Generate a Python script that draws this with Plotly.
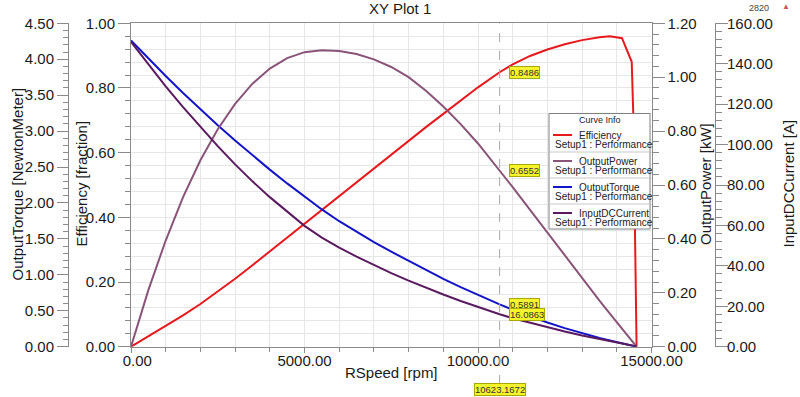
import plotly.graph_objects as go

W, H = 800, 397


def px(x):
    return x / W


def py(y):
    return 1 - y / H


# ---------------- data ----------------
speed = [0, 500, 1000, 1500, 2000, 2500, 3000, 3500, 4000, 4500, 5000, 5500,
         6000, 6500, 7000, 7500, 8000, 8500, 9000, 9500, 10000, 10623.1672,
         11000, 11500, 12000, 12500, 13000, 13500, 13800, 14150, 14430,
         14480, 14530, 14570]

efficiency = [0.0, 0.0315, 0.064, 0.097, 0.132, 0.170, 0.210, 0.252, 0.295,
              0.338, 0.381, 0.424, 0.467, 0.510, 0.553, 0.595, 0.637, 0.679,
              0.720, 0.762, 0.802, 0.8486, 0.873, 0.899, 0.919, 0.935, 0.948,
              0.957, 0.960, 0.954, 0.881, 0.70, 0.35, 0.0]

output_power = [0.0, 0.210, 0.394, 0.555, 0.692, 0.807, 0.901, 0.976, 1.032,
                1.071, 1.093, 1.100, 1.097, 1.086, 1.066, 1.038, 1.000,
                0.950, 0.891, 0.826, 0.754, 0.6552, 0.592, 0.508, 0.423,
                0.338, 0.253, 0.171, 0.123, 0.067, 0.023, 0.015, 0.006, 0.0]

output_torque = [4.26, 4.010, 3.767, 3.531, 3.303, 3.082, 2.869, 2.663, 2.464,
                 2.272, 2.087, 1.910, 1.746, 1.596, 1.454, 1.322, 1.194,
                 1.067, 0.945, 0.830, 0.720, 0.5891, 0.514, 0.422, 0.337,
                 0.258, 0.186, 0.121, 0.085, 0.045, 0.015, 0.010, 0.004, 0.0]

input_dc_current = [150.8, 139.6, 128.8, 118.5, 108.6, 99.2, 90.2, 81.8, 74.0,
                    66.7, 59.8, 54.0, 49.0, 44.6, 40.4, 36.4, 32.7, 29.1,
                    25.8, 22.6, 19.6, 16.0863, 14.1, 11.8, 9.6, 7.5, 5.56,
                    3.72, 2.67, 1.46, 0.54, 0.45, 0.36, 0.3]

series_names = ["Efficiency", "OutputPower", "OutputTorque", "InputDCCurrent"]
series_colors = ["#e8191c", "#8a5478", "#1414c8", "#5a1a60"]
series_axes = ["y", "y3", "y2", "y4"]
setup_label = "Setup1 : Performance"

cursor_speed = 10623.1672
cursor_values = [0.8486, 0.6552, 0.5891, 16.0863]
cursor_axes = ["y", "y3", "y2", "y4"]

x_tickvals = [0, 5000, 10000, 15000]
x_ticktext = ["\u00a0\u00a0\u00a00.00", "5000.00", "10000.00", "15000.00"]

axis_titles = ["OutputTorque [NewtonMeter]", "Efficiency [fraction]",
               "OutputPower [kW]", "InputDCCurrent [A]"]

# ---------------- figure ----------------
AX = "#8a8a8a"
GRID = "#e6e6e6"
FONT = "Liberation Sans, Arial, sans-serif"

fig = go.Figure()
ys = [efficiency, output_power, output_torque, input_dc_current]
for name, color, ax, yv in zip(series_names, series_colors, series_axes, ys):
    fig.add_trace(go.Scatter(x=speed, y=yv, mode="lines", name=name,
                             yaxis=ax, line=dict(color=color, width=2),
                             showlegend=False))

common_y = dict(ticks="outside", tickcolor=AX, showline=True, linecolor=AX,
                zeroline=False, tickformat=".2f", tickfont=dict(size=15),
                automargin=False)

fig.update_layout(
    width=W, height=H,
    margin=dict(l=0, r=0, t=0, b=0, pad=0, autoexpand=False),
    paper_bgcolor="white", plot_bgcolor="white",
    font=dict(family=FONT, size=15, color="#1a1a1a"),
    showlegend=False,
    xaxis=dict(domain=[px(131), px(651.5)], range=[0, 15000],
               tickmode="array", tickvals=x_tickvals, ticktext=x_ticktext,
               ticks="outside", ticklen=5, tickcolor=AX,
               showline=True, linecolor=AX, mirror=True, zeroline=False,
               showgrid=True, gridcolor=GRID, automargin=False,
               ticklabelstandoff=-5,
               minor=dict(tickmode="linear", tick0=0, dtick=1000,
                          ticks="outside", ticklen=4, tickcolor=AX,
                          showgrid=True, gridcolor=GRID),
               tickfont=dict(size=15)),
    yaxis=dict(domain=[py(346.7), py(23.3)], range=[0, 1], dtick=0.2,
               ticklen=12, showgrid=True, gridcolor=GRID,
               minor=dict(dtick=0.04, ticks="outside", ticklen=5,
                          tickcolor=AX, showgrid=True, gridcolor=GRID),
               **common_y),
    yaxis2=dict(overlaying="y", anchor="free", position=px(68), side="left",
                range=[0, 4.5], dtick=0.5, ticklen=11, showgrid=False,
                minor=dict(dtick=0.1, ticks="outside", ticklen=5,
                           tickcolor=AX),
                **common_y),
    yaxis3=dict(overlaying="y", anchor="x", side="right",
                range=[0, 1.2], dtick=0.2, ticklen=12, showgrid=False,
                minor=dict(dtick=0.04, ticks="outside", ticklen=6,
                           tickcolor=AX),
                **common_y),
    yaxis4=dict(overlaying="y", anchor="free", position=px(715), side="right",
                range=[0, 160], dtick=20, ticklen=12, showgrid=False,
                ticklabelstandoff=-4,
                minor=dict(dtick=4, ticks="outside", ticklen=6,
                           tickcolor=AX),
                **common_y),
)

ann = []


def text_ann(text, x, y, size, color="#1a1a1a", xanchor="center", angle=0):
    return dict(text=text, x=px(x), y=py(y), xref="paper", yref="paper",
                xanchor=xanchor, yanchor="middle", showarrow=False,
                textangle=angle, font=dict(size=size, color=color))


# title and axis titles
ann.append(text_ann("XY Plot 1", 400, 8.5, 15))
ann.append(text_ann("RSpeed [rpm]", 391, 372, 15))
for t, xp in zip(axis_titles, [16.5, 80.5, 705, 787.5]):
    ann.append(text_ann(t, xp, 184, 15, angle=-90))
ann.append(text_ann("2820", 759, 8, 9, color="#444444"))
ann.append(text_ann("\u25b2", 785.5, 6, 8, color="#c85a5a"))

# cursor readouts
YEL = "#f6f52c"
YB = "#a8a800"
for val, ax in zip(cursor_values, cursor_axes):
    ann.append(dict(text=f"{val:.4f}", x=cursor_speed, y=val, xref="x",
                    yref=ax, xanchor="left", yanchor="middle", xshift=9,
                    showarrow=False, bgcolor=YEL, bordercolor=YB,
                    borderwidth=1, borderpad=0,
                    font=dict(size=9.5, color="#333333")))
ann.append(dict(text=f"{cursor_speed:.4f}", x=cursor_speed, y=py(389),
                xref="x", yref="paper", xanchor="center", yanchor="middle",
                showarrow=False, bgcolor=YEL, bordercolor=YB, borderwidth=1,
                borderpad=0, font=dict(size=9.5, color="#333333")))

# legend box ("Curve Info")
shapes = [dict(type="line", xref="x", x0=cursor_speed, x1=cursor_speed,
               yref="paper", y0=py(384), y1=py(23.3),
               line=dict(color="#a8a8a8", width=1, dash="dash"))]
shapes.append(dict(type="rect", xref="paper", yref="paper",
                   x0=px(549), x1=px(650), y0=py(229), y1=py(113.5),
                   line=dict(color="#808080", width=1), fillcolor="white",
                   layer="above"))
ann.append(text_ann("Curve Info", 599.5, 120, 9, color="#222222"))
for i, (name, color) in enumerate(zip(series_names, series_colors)):
    top = 126 + 26 * i
    if i > 0:
        shapes.append(dict(type="line", xref="paper", yref="paper",
                           x0=px(549), x1=px(650), y0=py(top), y1=py(top),
                           line=dict(color="#c8c8c8", width=1)))
    shapes.append(dict(type="line", xref="paper", yref="paper",
                       x0=px(553), x1=px(572), y0=py(top + 9),
                       y1=py(top + 9), line=dict(color=color, width=2)))
    ann.append(text_ann(name, 577, top + 9, 10, color="#222222",
                        xanchor="left"))
    ann.append(text_ann(setup_label, 552.5, top + 18.5, 10, color="#222222",
                        xanchor="left"))

fig.update_layout(annotations=ann, shapes=shapes)
fig.write_html("out.html", config={"displayModeBar": False},
               post_script="document.body.style.margin='0';"
                           "document.body.style.padding='0';")
